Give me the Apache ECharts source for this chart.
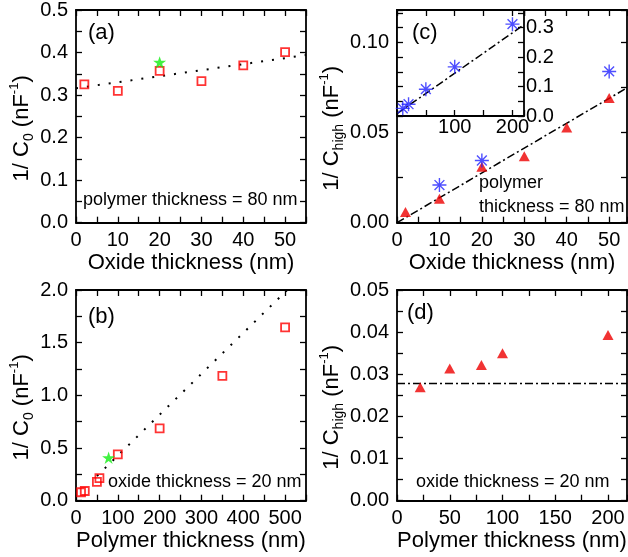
<!DOCTYPE html>
<html><head><meta charset="utf-8">
<script src="https://cdn.jsdelivr.net/npm/echarts@6/dist/echarts.min.js"></script>
<style>html,body{margin:0;padding:0;background:#fff}#c{width:628px;height:557px}</style>
</head><body><div id="c"></div>
<script>
// ---------------- data ----------------
// (a) 1/C0 vs oxide thickness (polymer 80 nm)
const oxideA = [2, 10, 20, 30, 40, 50];
const invC0A = [0.325, 0.310, 0.357, 0.333, 0.370, 0.401];
const starA_x = [20];
const starA_y = [0.377];
const fitA_x = [0, 55];
const fitA_y = [0.316, 0.394];
const xLabelsA = ['0', '10', '20', '30', '40', '50'];
const yLabelsA = ['0.0', '0.1', '0.2', '0.3', '0.4', '0.5'];

// (b) 1/C0 vs polymer thickness (oxide 20 nm)
const polyB = [12, 21, 50, 56, 100, 200, 350, 500];
const invC0B = [0.080, 0.092, 0.178, 0.215, 0.440, 0.687, 1.184, 1.646];
const starB_x = [78];
const starB_y = [0.408];
const fitB_x = [50, 505];
const fitB_y = [0.234, 2.0];
const xLabelsB = ['0', '100', '200', '300', '400', '500'];
const yLabelsB = ['0.0', '0.5', '1.0', '1.5', '2.0'];

// (c) 1/Chigh vs oxide thickness (polymer 80 nm)
const oxideC = [2, 10, 20, 30, 40, 50];
const invChighC = [0.006, 0.0133, 0.031, 0.0368, 0.0528, 0.0692];
const starC_x = [10, 20, 50];
const starC_y = [0.0209, 0.0345, 0.0839];
const fitC_x = [0, 54.2];
const fitC_y = [0, 0.0748];
const xLabelsC = ['0', '10', '20', '30', '40', '50'];
const yLabelsC = ['0.00', '0.05', '0.10'];

// (c) inset
const polyInset = [10, 20, 50, 100, 200];
const starInset = [0.026, 0.040, 0.091, 0.167, 0.312];
const fitInset_x = [0, 220];
const fitInset_y = [0.008, 0.310];
const xLabelsInset = ['100', '200'];
const yLabelsInset = ['0.0', '0.1', '0.2', '0.3'];

// (d) 1/Chigh vs polymer thickness (oxide 20 nm)
const polyD = [22, 50, 80, 100, 200];
const invChighD = [0.0269, 0.0314, 0.0322, 0.0350, 0.0393];
const fitD_x = [0, 218];
const fitD_y = [0.0278, 0.0278];
const xLabelsD = ['0', '50', '100', '150', '200'];
const yLabelsD = ['0.00', '0.01', '0.02', '0.03', '0.04', '0.05'];

// ---------------- helpers ----------------
const FONT = '"Liberation Sans", Arial, Helvetica, sans-serif';
const grids = [], xAxis = [], yAxis = [], series = [];

function pairs(xs, ys) { return xs.map((x, i) => [x, ys[i]]); }
function fmt(labels) {
  return function (v) {
    for (const s of labels) { if (Math.abs(parseFloat(s) - v) < 1e-7) return s; }
    return '';
  };
}
function ax(min, max, tick, z, gi, pos) {
  return {
    type: 'value', min: min, max: max, interval: tick, gridIndex: gi, position: pos,
    splitLine: { show: false },
    axisLine: { show: true, onZero: false, lineStyle: { color: '#000', width: 1.8 } },
    axisTick: { show: true, inside: true, length: 6, lineStyle: { color: '#000', width: 1.3 } },
    axisLabel: { show: false },
    z: z, silent: true
  };
}
function lab(labels, margin) {
  return { show: true, formatter: fmt(labels), fontSize: 20, fontFamily: FONT, color: '#000',
    margin: margin, showMinLabel: true, showMaxLabel: true };
}
const yNameStyle = {
  fontSize: 22, fontFamily: FONT, color: '#000', padding: [0, 24, 0, 0],
  rich: {
    m: { fontSize: 22, lineHeight: 28, fontFamily: FONT, color: '#000' },
    sub: { fontSize: 14, lineHeight: 14, verticalAlign: 'bottom', fontFamily: FONT, color: '#000' },
    sup: { fontSize: 13, lineHeight: 13, verticalAlign: 'top', fontFamily: FONT, color: '#000' }
  }
};
function box(rect, z, X, Y) {
  const gi = grids.length;
  grids.push(Object.assign({ outerBoundsMode: 'none', containLabel: false }, rect));
  const xi = xAxis.length, yi = yAxis.length;
  const xb = ax(X.min, X.max, X.tick, z, gi, 'bottom');
  if (X.labels) xb.axisLabel = lab(X.labels, X.margin);
  if (X.name) {
    xb.name = X.name; xb.nameLocation = 'middle'; xb.nameGap = X.gap;
    xb.nameTextStyle = { fontSize: 22, fontFamily: FONT, color: '#000' };
  }
  const xt = ax(X.min, X.max, X.tick, z, gi, 'top');
  xAxis.push(xb, xt);
  const yl = ax(Y.min, Y.max, Y.tick, z, gi, 'left');
  if (Y.labels) yl.axisLabel = lab(Y.labels, Y.margin);
  if (Y.name) {
    yl.name = Y.name; yl.nameLocation = 'middle'; yl.nameGap = Y.gap; yl.nameRotate = 90;
    yl.nameTextStyle = yNameStyle;
  }
  const yr = ax(Y.min, Y.max, Y.tick, z, gi, 'right');
  if (Y.rightLabels) yr.axisLabel = lab(Y.rightLabels, Y.rightMargin);
  yAxis.push(yl, yr);
  return { xi: xi, yi: yi };
}

const DOT = [2, 9];
const DASHDOT = [8, 3, 2, 3];
const STAR = 'path://M0,-1L0.2245,-0.309L0.951,-0.309L0.363,0.118L0.588,0.809L0,0.382L-0.588,0.809L-0.363,0.118L-0.951,-0.309L-0.2245,-0.309Z';
const ASTER = 'path://M0,-10L0,10M-10,0L10,0M-7,-7L7,7M-7,7L7,-7';

function lineS(a, xs, ys, dash, w, z) {
  series.push({ type: 'line', xAxisIndex: a.xi, yAxisIndex: a.yi, data: pairs(xs, ys),
    showSymbol: false, symbol: 'none', silent: true, animation: false, z: z,
    lineStyle: { color: '#000', width: w, type: dash } });
}
function squares(a, xs, ys, z) {
  series.push({ type: 'scatter', xAxisIndex: a.xi, yAxisIndex: a.yi, data: pairs(xs, ys),
    symbol: 'rect', symbolSize: 8, silent: true, animation: false, z: z,
    itemStyle: { color: 'rgba(255,255,255,0)', borderColor: '#f00', borderWidth: 1.8 } });
}
function stars(a, xs, ys, z) {
  series.push({ type: 'scatter', xAxisIndex: a.xi, yAxisIndex: a.yi, data: pairs(xs, ys),
    symbol: STAR, symbolSize: 13, symbolKeepAspect: true, silent: true, animation: false, z: z,
    itemStyle: { color: '#11ee11' } });
}
function tris(a, xs, ys, z) {
  series.push({ type: 'scatter', xAxisIndex: a.xi, yAxisIndex: a.yi, data: pairs(xs, ys),
    symbol: 'triangle', symbolSize: [11, 10], silent: true, animation: false, z: z,
    itemStyle: { color: '#ee0000' } });
}
function asters(a, xs, ys, z) {
  series.push({ type: 'scatter', xAxisIndex: a.xi, yAxisIndex: a.yi, data: pairs(xs, ys),
    symbol: ASTER, symbolSize: 14, silent: true, animation: false, z: z,
    itemStyle: { color: 'none', borderColor: '#2222ff', borderWidth: 1.4 } });
}

// ---------------- panels ----------------
const yNameC0 = '{m|1/ C}{sub|0}{m| (nF}{sup|-1}{m|)}';
const yNameCh = '{m|1/ C}{sub|high}{m| (nF}{sup|-1}{m|)}';

const A = box({ left: 76, top: 10, width: 230, height: 212.7 }, 0,
  { min: 0, max: 55, tick: 5, labels: xLabelsA, margin: 8, name: 'Oxide thickness (nm)', gap: 25 },
  { min: 0, max: 0.5, tick: 0.05, labels: yLabelsA, margin: 8, name: yNameC0, gap: 37 });
lineS(A, fitA_x, fitA_y, DOT, 2, 2);
squares(A, oxideA, invC0A, 3);
stars(A, starA_x, starA_y, 4);

const B = box({ left: 76, top: 290, width: 230, height: 210.7 }, 0,
  { min: 0, max: 550, tick: 50, labels: xLabelsB, margin: 8, name: 'Polymer thickness (nm)', gap: 27 },
  { min: 0, max: 2, tick: 0.25, labels: yLabelsB, margin: 8, name: yNameC0, gap: 37 });
lineS(B, fitB_x, fitB_y, DOT, 2, 2);
squares(B, polyB, invC0B, 3);
stars(B, starB_x, starB_y, 4);

const C = box({ left: 397, top: 10, width: 230, height: 212.7 }, 0,
  { min: 0, max: 54.2, tick: 5, labels: xLabelsC, margin: 8, name: 'Oxide thickness (nm)', gap: 25 },
  { min: 0, max: 0.118, tick: 0.025, labels: yLabelsC, margin: 8, name: yNameCh, gap: 37 });
lineS(C, fitC_x, fitC_y, DASHDOT, 1.5, 2);
tris(C, oxideC, invChighC, 3);
asters(C, starC_x, starC_y, 4);

const I = box({ left: 397, top: 10, width: 127, height: 106, show: true, backgroundColor: '#fff', borderWidth: 0, z: 5 }, 6,
  { min: 0, max: 220, tick: 50, labels: xLabelsInset, margin: 1 },
  { min: 0, max: 0.36, tick: 0.05, rightLabels: yLabelsInset, rightMargin: 2 });
lineS(I, fitInset_x, fitInset_y, DASHDOT, 1.5, 7);
asters(I, polyInset, starInset, 8);

const D = box({ left: 397, top: 290, width: 230, height: 210.7 }, 0,
  { min: 0, max: 218, tick: 25, labels: xLabelsD, margin: 8, name: 'Polymer thickness (nm)', gap: 27 },
  { min: 0, max: 0.05, tick: 0.005, labels: yLabelsD, margin: 8, name: yNameCh, gap: 37 });
lineS(D, fitD_x, fitD_y, DASHDOT, 1.5, 2);
tris(D, polyD, invChighD, 3);

// ---------------- annotations ----------------
function txt(s, x, y, size) {
  return { type: 'text', x: x, y: y, z: 100, silent: true,
    style: { text: s, fontSize: size, fontFamily: FONT, fill: '#000', align: 'left', verticalAlign: 'middle' } };
}
const graphic = [
  txt('(a)', 88, 33, 22), txt('(b)', 88, 317, 22), txt('(c)', 412, 33, 22), txt('(d)', 407, 313, 22),
  txt('polymer thickness = 80 nm', 83, 200, 18),
  txt('oxide thickness = 20 nm', 108, 482, 18),
  txt('polymer', 479, 183, 18), txt('thickness = 80 nm', 479, 207, 18),
  txt('oxide thickness = 20 nm', 416, 482, 18)
];

const chart = echarts.init(document.getElementById('c'), null, { renderer: 'canvas', width: 628, height: 557 });
chart.setOption({
  animation: false,
  backgroundColor: '#fff',
  grid: grids, xAxis: xAxis, yAxis: yAxis, series: series, graphic: graphic
});
</script></body></html>
